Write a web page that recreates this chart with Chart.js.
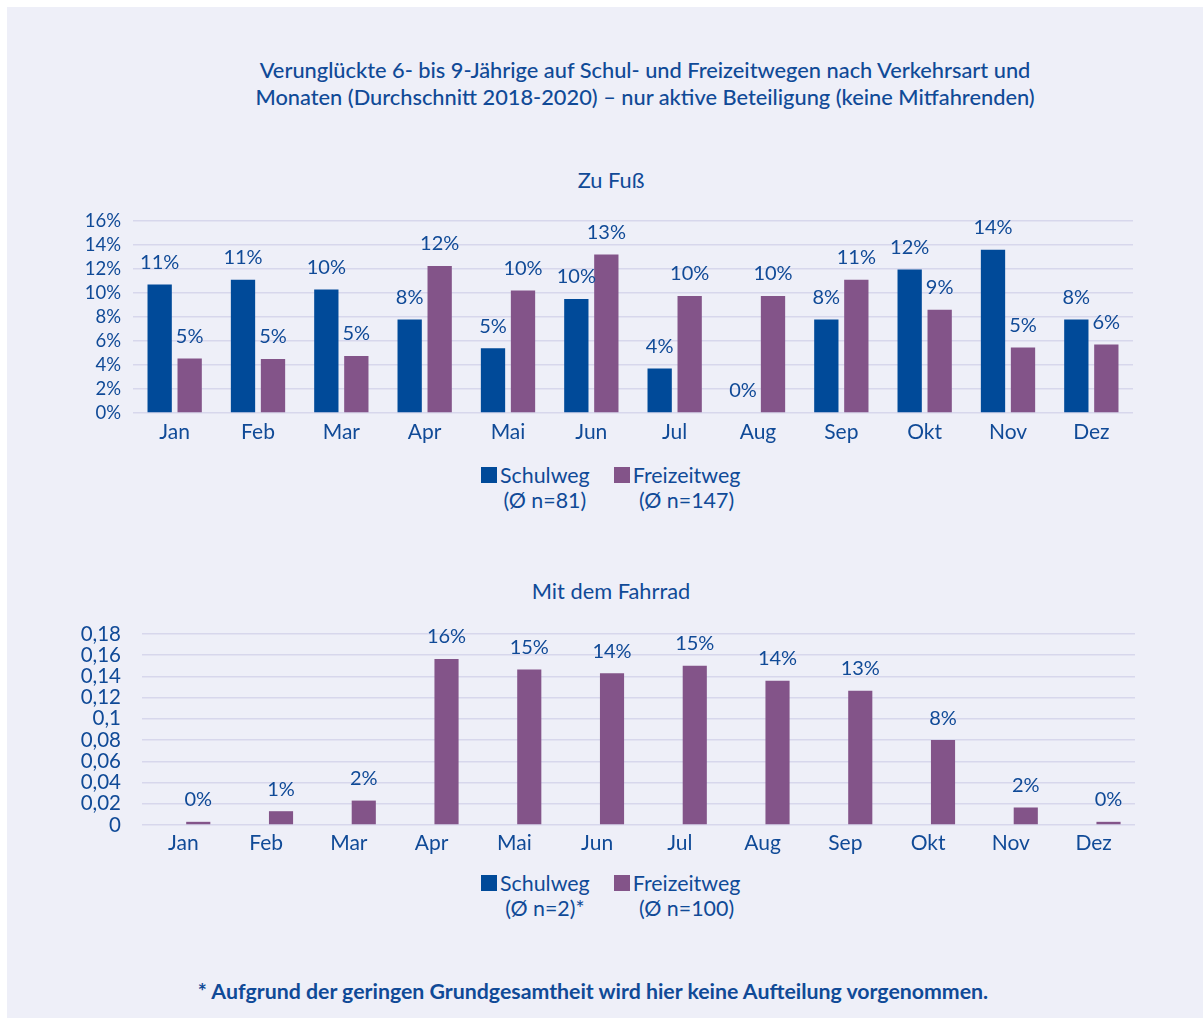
<!DOCTYPE html>
<html lang="de">
<head>
    <meta charset="UTF-8">
    <title>Verunglückte 6- bis 9-Jährige</title>
    <script src="https://cdn.jsdelivr.net/npm/chart.js"></script>
    <style>
        body { margin: 0; background: #fff; font-family: Lato, sans-serif; color: #104A97; }
        #panel { position: absolute; left: 7px; top: 7px; width: 1196px; height: 1011px; background: #EEEFF8; }
        .txt { position: absolute; text-align: center; white-space: nowrap; }
        #title { left: 145px; width: 1000px; top: 56px; font-size: 21.8px; line-height: 27px; font-weight: 500; }
        .sub { left: 311px; width: 600px; font-size: 21.8px; line-height: 24px; }
        .legend { position: absolute; left: 481px; display: flex; font-size: 21.4px; line-height: 25px; }
        .legend .item { display: flex; margin-right: 24px; }
        .legend .box { width: 16px; height: 16px; margin-top: 4px; margin-right: 3px; }
        .legend .lbl { text-align: center; }
        #note { left: 93px; width: 1000px; top: 978px; font-size: 21.3px; font-weight: 700; line-height: 26px; }
        canvas { position: absolute; left: 0; }
    </style>
</head>
<body>
    <div id="panel"></div>
    <div id="title" class="txt">Verunglückte 6- bis 9-Jährige auf Schul- und Freizeitwegen nach Verkehrsart und<br>Monaten (Durchschnitt 2018-2020) – nur aktive Beteiligung (keine Mitfahrenden)</div>
    <div class="txt sub" style="top:168px">Zu Fuß</div>
    <canvas id="fussChart" width="1203" height="250" style="top:200px"></canvas>
    <div class="legend" id="legend1" style="top:463px"></div>
    <div class="txt sub" style="top:579px">Mit dem Fahrrad</div>
    <canvas id="radChart" width="1203" height="250" style="top:610px"></canvas>
    <div class="legend" id="legend2" style="top:871px"></div>
    <div id="note" class="txt">* Aufgrund der geringen Grundgesamtheit wird hier keine Aufteilung vorgenommen.</div>
    <script>
        const months = ['Jan', 'Feb', 'Mar', 'Apr', 'Mai', 'Jun', 'Jul', 'Aug', 'Sep', 'Okt', 'Nov', 'Dez'];

        // Zu Fuß, Anteile in %
        const fussSchulweg = [10.7, 11.1, 10.3, 7.8, 5.4, 9.5, 3.7, 0, 7.8, 11.95, 13.6, 7.8];
        const fussFreizeitweg = [4.55, 4.5, 4.75, 12.25, 10.2, 13.2, 9.75, 9.75, 11.1, 8.6, 5.45, 5.7];

        // Mit dem Fahrrad, Anteile als Bruch (Schulweg nicht aufgeteilt)
        const radSchulweg = [null, null, null, null, null, null, null, null, null, null, null, null];
        const radFreizeitweg = [0.003, 0.013, 0.023, 0.1565, 0.1465, 0.143, 0.15, 0.136, 0.1265, 0.08, 0.0165, 0.003];

        const fussLegend = ['(Ø n=81)', '(Ø n=147)'];
        const radLegend = ['(Ø n=2)*', '(Ø n=100)'];

        const textColor = '#104A97';
        const blue = '#004A99';
        const purple = '#835489';
        const gridColor = '#D7D7EC';

        Chart.defaults.font.family = 'Lato, sans-serif';
        Chart.defaults.color = textColor;

        // draws the percentage over each bar
        const valueLabels = {
            id: 'valueLabels',
            afterDatasetsDraw(chart, args, opts) {
                const ctx = chart.ctx;
                ctx.save();
                ctx.font = '20px Lato, sans-serif';
                ctx.fillStyle = textColor;
                ctx.textAlign = 'center';
                ctx.textBaseline = 'middle';
                chart.data.datasets.forEach((ds, i) => {
                    chart.getDatasetMeta(i).data.forEach((bar, j) => {
                        const v = ds.data[j];
                        if (v === null || v === undefined) return;
                        ctx.fillText(opts.format(v), bar.x, bar.y - 22);
                    });
                });
                ctx.restore();
            }
        };

        function makeChart(id, schul, frei, opt) {
            return new Chart(document.getElementById(id), {
                type: 'bar',
                data: {
                    labels: months,
                    datasets: [
                        { label: 'Schulweg', data: schul, backgroundColor: blue, categoryPercentage: 0.72, barPercentage: 0.81 },
                        { label: 'Freizeitweg', data: frei, backgroundColor: purple, categoryPercentage: 0.72, barPercentage: 0.81 }
                    ]
                },
                options: {
                    responsive: false,
                    animation: false,
                    layout: { padding: { top: opt.padTop, right: opt.padRight, left: 0, bottom: 0 } },
                    plugins: {
                        legend: { display: false },
                        tooltip: { enabled: false },
                        valueLabels: { format: opt.format }
                    },
                    scales: {
                        x: {
                            grid: { display: false, drawTicks: false },
                            border: { display: false },
                            ticks: { font: { size: 21 }, padding: opt.xPad },
                            afterFit: (s) => { s.height = opt.xHeight; }
                        },
                        y: {
                            min: 0,
                            max: opt.max,
                            grid: { color: gridColor, lineWidth: 1.5, drawTicks: false },
                            border: { display: false },
                            ticks: { stepSize: opt.step, autoSkip: false, font: { size: opt.yFont }, padding: opt.yPad, callback: opt.tick },
                            afterFit: (s) => {
                                s.width = opt.yWidth;
                                // plot top is set by the layout padding only
                                s.paddingTop = 0;
                                s.paddingBottom = 0;
                            }
                        }
                    }
                },
                plugins: [valueLabels]
            });
        }

        makeChart('fussChart', fussSchulweg, fussFreizeitweg, {
            padTop: 21, padRight: 70, xHeight: 37, xPad: 7, yWidth: 133, yPad: 12, yFont: 18.5,
            max: 16, step: 2,
            tick: (v) => v + '%',
            format: (v) => Math.round(v) + '%'
        });

        makeChart('radChart', radSchulweg, radFreizeitweg, {
            padTop: 24, padRight: 68, xHeight: 35, xPad: 6, yWidth: 142, yPad: 21, yFont: 20.5,
            max: 0.18, step: 0.02,
            tick: (v) => String(parseFloat(v.toFixed(2))).replace('.', ','),
            format: (v) => Math.round(v * 100) + '%'
        });

        function buildLegend(elId, notes) {
            const el = document.getElementById(elId);
            [['Schulweg', blue], ['Freizeitweg', purple]].forEach((it, i) => {
                const item = document.createElement('div');
                item.className = 'item';
                item.innerHTML = '<div class="box" style="background:' + it[1] + '"></div>' +
                    '<div class="lbl">' + it[0] + '<br>' + notes[i] + '</div>';
                el.appendChild(item);
            });
        }
        buildLegend('legend1', fussLegend);
        buildLegend('legend2', radLegend);
    </script>
</body>
</html>
